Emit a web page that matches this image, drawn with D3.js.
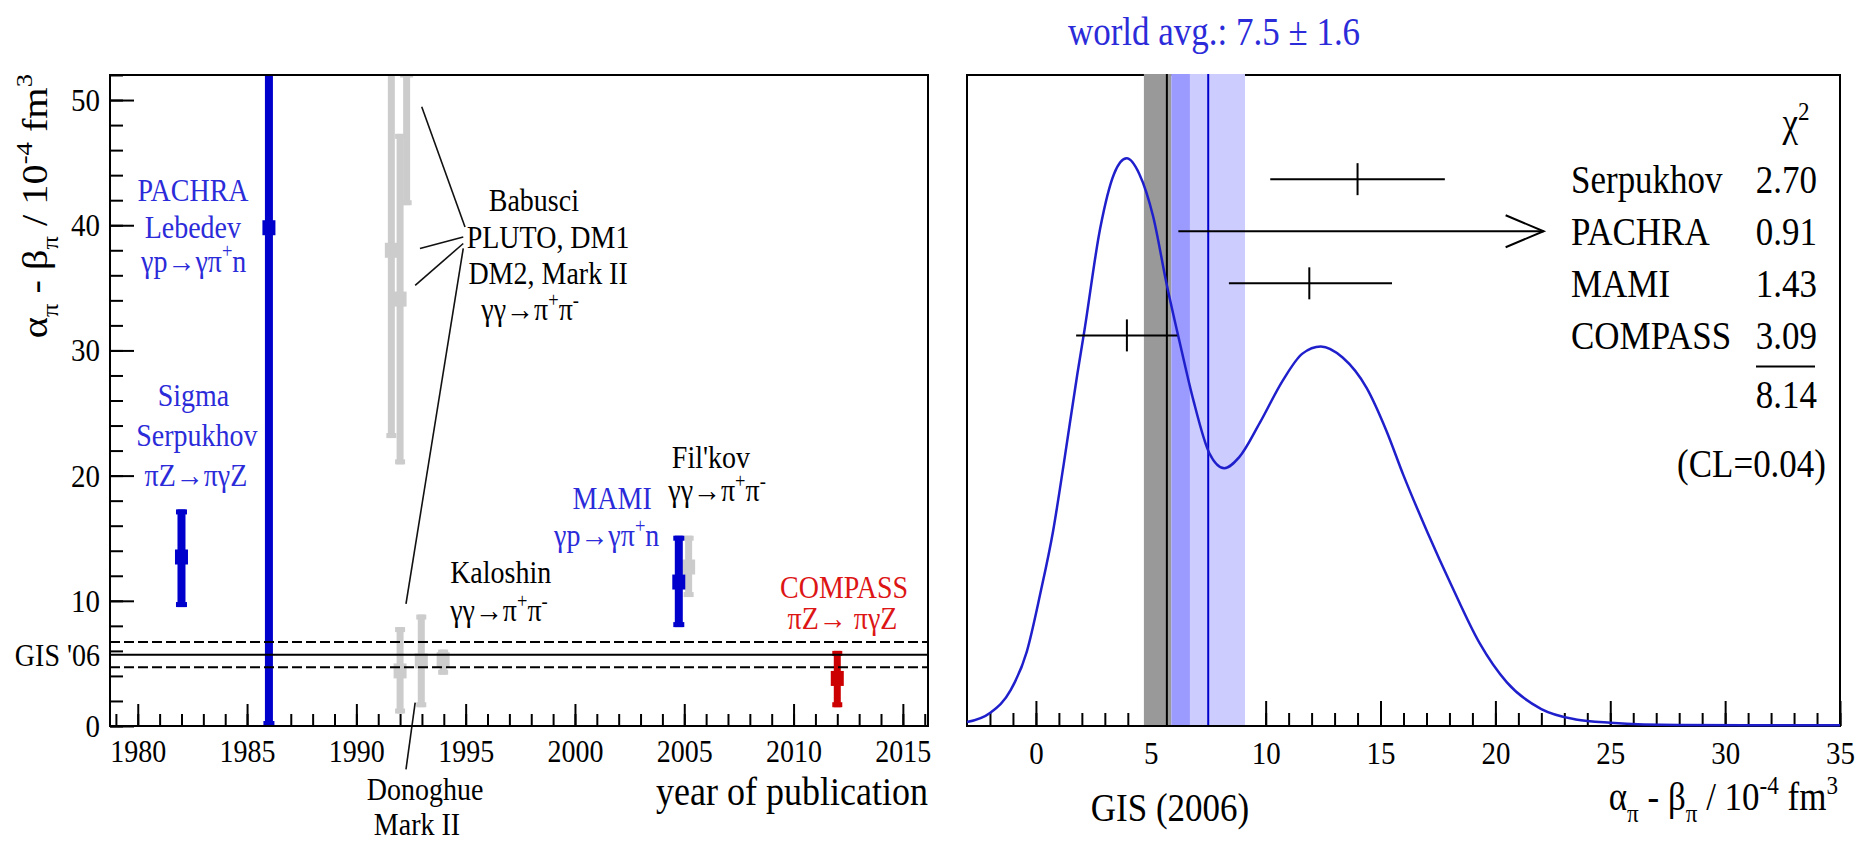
<!DOCTYPE html>
<html lang="en">
<head>
<meta charset="utf-8">
<title>Pion polarizability</title>
<script src="https://d3js.org/d3.v7.min.js"></script>
<style>
  body { margin: 0; background: #fff; }
  svg text { font-family: "Liberation Serif", "Times New Roman", serif !important; }
</style>
</head>
<body>
<script>
// ---------- data : left panel (year of publication) ----------
var yearTicks = [1980, 1985, 1990, 1995, 2000, 2005, 2010, 2015];
var valueTicks = [0, 10, 20, 30, 40, 50];

var blueYears = [1982.0, 1986.0, 2004.75];
var blueVals  = [13.5, 39.8, 11.5];
var blueLo    = [9.5, 0, 7.9];
var blueHi    = [17.3, 64, 15.2];

var grayYears = [1991.6, 1992.0, 1992.3, 1992.0, 1992.97, 1993.97, 2005.2];
var grayVals  = [38.0, 34.1, 52.4, 4.4, 5.2, 5.3, 12.7];
var grayLo    = [23.0, 20.9, 41.6, 1.0, 1.5, 4.1, 10.3];
var grayHi    = [60, 47.3, 60, 7.9, 8.9, 6.1, 15.2];

var redYears = [2012.0];
var redVals  = [3.8];
var redLo    = [1.5];
var redHi    = [6.0];

var gisValue = 5.7;
var gisErr = 1.0;

// ---------- data : right panel (ideogram) ----------
var axisTicks = [0, 5, 10, 15, 20, 25, 30, 35];
var curveX = [-3, -2, -1.1, -0.4, 0.2, 0.75, 1.2, 1.8, 2.1, 2.8, 3.4, 3.95, 4.5, 5.1, 5.7, 6.3, 6.85, 7.55, 8.2,
              8.85, 9.75, 10.75, 11.6, 12.4, 13.35, 14.4, 15.25, 16.0, 17.05, 18.1, 19.3, 20.5, 22.0, 23.5, 25.0, 28.0, 35.0];
var curveY = [0.006, 0.02, 0.055, 0.114, 0.205, 0.30, 0.40, 0.54, 0.605, 0.765, 0.848, 0.872, 0.848, 0.783, 0.677, 0.583, 0.501, 0.419, 0.396,
              0.413, 0.466, 0.531, 0.572, 0.583, 0.566, 0.519, 0.454, 0.385, 0.297, 0.215, 0.128, 0.067, 0.026, 0.010, 0.005, 0.0015, 0.001];

var worldAvg = 7.5;
var worldErr = 1.6;

var expNames  = ["Serpukhov", "PACHRA", "MAMI", "COMPASS"];
var expVals   = [14.0, 40, 11.9, 3.96];
var expLo     = [10.2, 6.2, 8.4, 1.75];
var expHi     = [17.8, 22.1, 15.5, 6.15];
var expArrow  = [false, true, false, false];
var expLevel  = [0.84, 0.76, 0.68, 0.60];
var chiValues = ["2.70", "0.91", "1.43", "3.09"];
var chiTotal  = "8.14";
var chiCL     = "(CL=0.04)";

// ---------- setup ----------
var w = 1858, h = 842;
var FONT = "Liberation Serif, Times New Roman, serif";
var SY = 1.12;  // the reference text is a bit tall
var BLUE = "#0000cc", BLUE_TXT = "#2b2bd9", RED = "#cc0000", RED_TXT = "#dd1515", GRAY = "#cccccc";

var svg = d3.select("body").append("svg")
  .attr("width", w).attr("height", h)
  .style("font-family", FONT);

// text with _{sub} and ^{sup} markup
function rich(g, x, y, str, size, color, anchor, transform) {
  var t = g.append("text")
    .attr("transform", transform || ("translate(" + x + "," + y + ") scale(1," + SY + ")"))
    .style("font-family", FONT)
    .attr("font-size", size)
    .attr("fill", color || "#000")
    .attr("text-anchor", anchor || "middle");
  var re = /([_^])\{([^}]*)\}/g, last = 0, shift = 0, m;
  while ((m = re.exec(str)) !== null) {
    if (m.index > last) {
      t.append("tspan").attr("dy", -shift).text(str.slice(last, m.index));
      shift = 0;
    }
    var s = m[1] === "^" ? -0.42 * size : 0.3 * size;
    t.append("tspan").attr("dy", s - shift).attr("font-size", size * 0.66).text(m[2]);
    shift = s;
    last = re.lastIndex;
  }
  if (last < str.length) t.append("tspan").attr("dy", -shift).text(str.slice(last));
  return t;
}

function styleAxis(g, fs) {
  g.attr("font-family", null).style("font-family", FONT).attr("font-size", fs);
  g.select(".domain").remove();
  g.selectAll(".tick line").attr("stroke", "#000").attr("stroke-width", 2);
  g.selectAll(".tick text").attr("fill", "#000");
}

// ======================= LEFT PANEL =======================
var L = { x0: 110, x1: 928, y0: 75, y1: 726 };
var xL = d3.scaleLinear().domain([1978.73, 2016.15]).range([L.x0, L.x1]);
var yL = d3.scaleLinear().domain([0, 52]).range([L.y1, L.y0]);

svg.append("clipPath").attr("id", "clipL")
  .append("rect").attr("x", L.x0).attr("y", L.y0).attr("width", L.x1 - L.x0).attr("height", L.y1 - L.y0);

// minor + major ticks
var gxm = svg.append("g").attr("transform", "translate(0," + L.y1 + ")")
  .call(d3.axisBottom(xL).tickValues(d3.range(1979, 2017)).tickSize(-12).tickFormat(""));
styleAxis(gxm, 28);
var gx = svg.append("g").attr("transform", "translate(0," + L.y1 + ")")
  .call(d3.axisBottom(xL).tickValues(yearTicks).tickSize(-22).tickFormat(d3.format("d")));
styleAxis(gx, 28);
gx.selectAll(".tick text").attr("y", 0).attr("dy", 0)
  .attr("transform", "translate(0,36) scale(1," + SY + ")");

var gym = svg.append("g").attr("transform", "translate(" + L.x0 + ",0)")
  .call(d3.axisLeft(yL).tickValues(d3.range(0, 53, 2)).tickSize(-13).tickFormat(""));
styleAxis(gym, 28);
var gy = svg.append("g").attr("transform", "translate(" + L.x0 + ",0)")
  .call(d3.axisLeft(yL).tickValues(valueTicks).tickSize(-24));
styleAxis(gy, 29);
gy.selectAll(".tick text").attr("x", 0).attr("dy", 0)
  .attr("transform", "translate(-10,10.5) scale(1," + SY + ")");

// points
function toPts(years, vals, lo, hi) {
  return years.map(function(y, i) { return { year: y, val: vals[i], lo: lo[i], hi: hi[i] }; });
}
var plotL = svg.append("g").attr("clip-path", "url(#clipL)");

function drawPoints(data, color, bw) {
  var g = plotL.append("g").attr("fill", color);
  g.selectAll("rect.bar").data(data).enter().append("rect")
    .attr("x", function(d) { return xL(d.year) - bw / 2; })
    .attr("y", function(d) { return yL(d.hi); })
    .attr("width", bw)
    .attr("height", function(d) { return yL(d.lo) - yL(d.hi); });
  g.selectAll("rect.capTop").data(data).enter().append("rect")
    .attr("x", function(d) { return xL(d.year) - bw / 2 - 1.5; })
    .attr("y", function(d) { return yL(d.hi); })
    .attr("width", bw + 3).attr("height", 5);
  g.selectAll("rect.capBot").data(data).enter().append("rect")
    .attr("x", function(d) { return xL(d.year) - bw / 2 - 1.5; })
    .attr("y", function(d) { return yL(d.lo) - 5; })
    .attr("width", bw + 3).attr("height", 5);
  g.selectAll("rect.mark").data(data).enter().append("rect")
    .attr("x", function(d) { return xL(d.year) - 6.5; })
    .attr("y", function(d) { return yL(d.val) - 7.5; })
    .attr("width", 13).attr("height", 15);
}
drawPoints(toPts(grayYears, grayVals, grayLo, grayHi), GRAY, 7);
drawPoints(toPts(blueYears, blueVals, blueLo, blueHi), BLUE, 8);
drawPoints(toPts(redYears, redVals, redLo, redHi), RED, 7);

// GIS '06 band
plotL.append("line")
  .attr("x1", L.x0).attr("x2", L.x1).attr("y1", yL(gisValue)).attr("y2", yL(gisValue))
  .attr("stroke", "#000").attr("stroke-width", 2);
[gisValue - gisErr, gisValue + gisErr].forEach(function(v) {
  plotL.append("line")
    .attr("x1", L.x0).attr("x2", L.x1).attr("y1", yL(v)).attr("y2", yL(v))
    .attr("stroke", "#000").attr("stroke-width", 2).attr("stroke-dasharray", "10,4");
});

// connector lines (year, value)
var connectors = [
  [1992.99, 49.46, 1994.97, 39.86],
  [1992.91, 38.14, 1994.89, 39.06],
  [1992.69, 35.2, 1994.89, 38.54],
  [1994.89, 38.16, 1992.27, 9.76],
  [1992.69, 1.86, 1992.27, -3.46]
];
svg.append("g").selectAll("line").data(connectors).enter().append("line")
  .attr("x1", function(d) { return xL(d[0]); })
  .attr("y1", function(d) { return yL(d[1]); })
  .attr("x2", function(d) { return xL(d[2]); })
  .attr("y2", function(d) { return yL(d[3]); })
  .attr("stroke", "#111").attr("stroke-width", 1.6);

// frame
svg.append("rect")
  .attr("x", L.x0).attr("y", L.y0).attr("width", L.x1 - L.x0).attr("height", L.y1 - L.y0)
  .attr("fill", "none").attr("stroke", "#000").attr("stroke-width", 2);

// labels (year, value) positions
var labels = svg.append("g");
function lab(year, val, str, color, anchor) { rich(labels, xL(year), yL(val), str, 28, color, anchor); }
lab(1982.53, 41.95, "PACHRA", BLUE_TXT);
lab(1982.52, 39.0, "Lebedev", BLUE_TXT);
lab(1982.56, 36.3, "γp→γπ^{+}n", BLUE_TXT);
lab(1982.55, 25.6, "Sigma", BLUE_TXT);
lab(1982.7, 22.4, "Serpukhov", BLUE_TXT);
lab(1982.66, 19.2, "πZ→πγZ", BLUE_TXT);
lab(1998.12, 41.1, "Babusci", "#000");
lab(1998.77, 38.2, "PLUTO, DM1", "#000");
lab(1998.77, 35.3, "DM2, Mark II", "#000");
lab(1997.95, 32.4, "γγ→π^{+}π^{-}", "#000");
lab(1994.29, 11.4, "Kaloshin", "#000", "start");
lab(1994.29, 8.4, "γγ→π^{+}π^{-}", "#000", "start");
lab(2001.70, 17.3, "MAMI", BLUE_TXT);
lab(2001.45, 14.4, "γp→γπ^{+}n", BLUE_TXT);
lab(2006.22, 20.6, "Fil'kov", "#000");
lab(2006.5, 17.95, "γγ→π^{+}π^{-}", "#000");
lab(2012.31, 10.25, "COMPASS", RED_TXT);
lab(2012.24, 7.75, "πZ→ πγZ", RED_TXT);

rich(svg, 100, yL(gisValue) + 11, "GIS '06", 28, "#000", "end");
rich(svg, 425, 800, "Donoghue", 28, "#000");
rich(svg, 417, 835, "Mark II", 28, "#000");
rich(svg, L.x1, 805, "year of publication", 36, "#000", "end");
rich(svg, 0, 0, "α_{π} - β_{π} / 10^{-4} fm^{3}", 36, "#000", "end",
  "translate(47,74) rotate(-90) scale(" + SY + ",1)");

// ======================= RIGHT PANEL =======================
var R = { x0: 967, x1: 1840, y0: 75, y1: 726 };
var xR = d3.scaleLinear().domain([-3, 35]).range([R.x0, R.x1]);
var yR = d3.scaleLinear().domain([0, 1]).range([R.y1, R.y0]);

// frame under the bands
svg.append("rect")
  .attr("x", R.x0).attr("y", R.y0).attr("width", R.x1 - R.x0).attr("height", R.y1 - R.y0)
  .attr("fill", "none").attr("stroke", "#000").attr("stroke-width", 2);

var grm = svg.append("g").attr("transform", "translate(0," + R.y1 + ")")
  .call(d3.axisBottom(xR).tickValues(d3.range(-2, 36)).tickSize(-13).tickFormat(""));
styleAxis(grm, 29);
var gr = svg.append("g").attr("transform", "translate(0," + R.y1 + ")")
  .call(d3.axisBottom(xR).tickValues(axisTicks).tickSize(-25));
styleAxis(gr, 29);
gr.selectAll(".tick text").attr("y", 0).attr("dy", 0)
  .attr("transform", "translate(0,38) scale(1," + SY + ")");

// bands
var bands = svg.append("g");
var gisLo = gisValue - gisErr, gisHi = gisValue + gisErr;
var waLo = worldAvg - worldErr, waHi = worldAvg + worldErr;
bands.append("rect").attr("x", xR(gisLo)).attr("width", xR(waLo) - xR(gisLo))
  .attr("y", R.y0 - 1).attr("height", R.y1 - R.y0).attr("fill", "#999999");
bands.append("rect").attr("x", xR(waLo)).attr("width", xR(waHi) - xR(waLo))
  .attr("y", R.y0 - 1).attr("height", R.y1 - R.y0).attr("fill", "#ccccff");
bands.append("rect").attr("x", xR(waLo)).attr("width", xR(gisHi) - xR(waLo))
  .attr("y", R.y0 - 1).attr("height", R.y1 - R.y0).attr("fill", "#9a9aff");
bands.append("line").attr("x1", xR(gisValue)).attr("x2", xR(gisValue))
  .attr("y1", R.y0 - 1).attr("y2", R.y1).attr("stroke", "#000").attr("stroke-width", 2);
bands.append("line").attr("x1", xR(worldAvg)).attr("x2", xR(worldAvg))
  .attr("y1", R.y0 - 1).attr("y2", R.y1).attr("stroke", BLUE).attr("stroke-width", 2);

// bottom axis line over the bands
svg.append("line").attr("x1", R.x0).attr("x2", R.x1).attr("y1", R.y1).attr("y2", R.y1)
  .attr("stroke", "#000").attr("stroke-width", 2);

// ideogram curve
var curveData = curveX.map(function(x, i) { return [x, curveY[i]]; });
svg.append("path")
  .datum(curveData)
  .attr("d", d3.line().x(function(d) { return xR(d[0]); }).y(function(d) { return yR(d[1]); })
    .curve(d3.curveMonotoneX))
  .attr("fill", "none").attr("stroke", "#1f1fcc").attr("stroke-width", 2.5);

// measurements
var exps = expNames.map(function(n, i) {
  return { name: n, val: expVals[i], lo: expLo[i], hi: expHi[i], arrow: expArrow[i], level: expLevel[i] };
});
var eg = svg.append("g").attr("stroke", "#000").attr("stroke-width", 2).attr("fill", "none");
eg.selectAll("line.h").data(exps).enter().append("line")
  .attr("x1", function(d) { return xR(d.lo); })
  .attr("x2", function(d) { return xR(d.hi); })
  .attr("y1", function(d) { return yR(d.level); })
  .attr("y2", function(d) { return yR(d.level); });
eg.selectAll("line.v").data(exps.filter(function(d) { return !d.arrow; })).enter().append("line")
  .attr("x1", function(d) { return xR(d.val); })
  .attr("x2", function(d) { return xR(d.val); })
  .attr("y1", function(d) { return yR(d.level) - 16; })
  .attr("y2", function(d) { return yR(d.level) + 16; });
eg.selectAll("path.arrow").data(exps.filter(function(d) { return d.arrow; })).enter().append("path")
  .attr("d", function(d) {
    var tx = xR(d.hi), ty = yR(d.level);
    return "M" + (tx - 38) + "," + (ty - 16) + "L" + tx + "," + ty + "L" + (tx - 38) + "," + (ty + 16);
  });

// chi2 table
var tab = svg.append("g");
rich(tab, 1796, 136, "χ^{2}", 35, "#000", "middle");
exps.forEach(function(d, i) {
  rich(tab, 1571, yR(d.level) + 14, d.name, 35, "#000", "start");
  rich(tab, 1817, yR(d.level) + 14, chiValues[i], 35, "#000", "end");
});
tab.append("line").attr("x1", 1756).attr("x2", 1815).attr("y1", 366.5).attr("y2", 366.5)
  .attr("stroke", "#000").attr("stroke-width", 2);
rich(tab, 1817, 408, chiTotal, 35, "#000", "end");
rich(tab, 1826, 477, chiCL, 35, "#000", "end");

// texts
rich(svg, 1214, 45, "world avg.: " + worldAvg + " ± " + worldErr, 35, BLUE_TXT, "middle");
rich(svg, 1170, 821, "GIS (2006)", 35, "#000", "middle");
rich(svg, 1838, 810, "α_{π} - β_{π} / 10^{-4} fm^{3}", 35, "#000", "end");
</script>
</body>
</html>
